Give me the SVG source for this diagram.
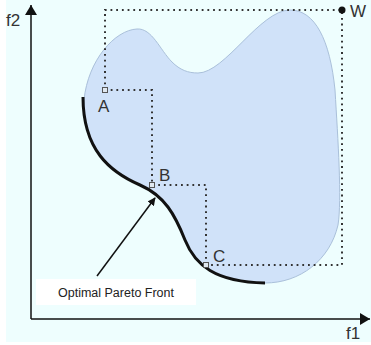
<svg xmlns="http://www.w3.org/2000/svg" width="371" height="345" viewBox="0 0 371 345">
<style>
.lbl{font-family:"Liberation Sans","DejaVu Sans",sans-serif;font-size:17px;fill:#333}
.dot{fill:none;stroke:#333;stroke-width:2;stroke-dasharray:1.8 3.9}
.pt{fill:#e0e8f0;stroke:#555;stroke-width:1}
.axis{stroke:#111;stroke-width:1.5;fill:none}
</style>
<defs>
<marker id="ah" viewBox="0 0 10 10" refX="9" refY="5" markerWidth="8" markerHeight="8" markerUnits="userSpaceOnUse" orient="auto">
<path d="M0,0 L10,5 L0,10 Z" fill="#111"/>
</marker>
<marker id="axh" viewBox="0 0 10 10" refX="10" refY="5" markerWidth="10" markerHeight="12" markerUnits="userSpaceOnUse" orient="auto" preserveAspectRatio="none">
<path d="M0,0 L10,5 L0,10 Z" fill="#111"/>
</marker>
</defs>
<rect x="6" y="0" width="365" height="342" fill="#EEFEFE"/>
<g id="region">
<path d="M84,100 C88,60 115,30 137,29 C152,28 160,50 172,62 C180,70 188,73 198,73 C225,73 260,10 290,10 C315,10 330,40 335,90 C338,140 342,200 338,225 C330,260 300,283 265,283 C215,282 195,265 185,240 C175,215 165,196 140,185 C110,172 84,150 84,100 Z" fill="#D0E2F9" stroke="#AAC0DA" stroke-width="1"/>
</g>
<g id="axes">
<line class="axis" x1="31" y1="319" x2="31" y2="5" marker-end="url(#axh)"/>
<line class="axis" x1="31" y1="319" x2="370" y2="319" marker-end="url(#axh)"/>
<text class="lbl" x="6" y="26">f2</text>
<text class="lbl" x="346" y="339">f1</text>
</g>
<g id="front">
<path d="M83,97 C83,150 110,172 140,185 C165,196 175,215 185,240 C195,265 215,282 265,283" fill="none" stroke="#111" stroke-width="3"/>
</g>
<g id="connectors">
<polyline class="dot" points="105,90 105,10 342,10 342,265 206,265"/>
<polyline class="dot" points="105,90 152,90 152,185 206,185 206,265"/>
<line x1="97" y1="276" x2="155" y2="198" stroke="#111" stroke-width="1.5" marker-end="url(#ah)"/>
</g>
<g id="A"><rect class="pt" x="102.5" y="87.5" width="5" height="5"/><text class="lbl" x="98" y="112">A</text></g>
<g id="B"><rect class="pt" x="149.5" y="182.5" width="5" height="5"/><text class="lbl" x="159" y="181">B</text></g>
<g id="C"><rect class="pt" x="203.5" y="262.5" width="5" height="5"/><text class="lbl" x="213" y="262">C</text></g>
<g id="W"><circle cx="342" cy="10" r="3.5" fill="#111"/><text class="lbl" x="350" y="17">W</text></g>
<g id="label">
<rect x="36" y="279" width="160" height="26" fill="#fff"/>
<text x="116" y="297" text-anchor="middle" font-family="Liberation Sans, Arial, sans-serif" font-size="12.5" fill="#222">Optimal Pareto Front</text>
</g>
</svg>
